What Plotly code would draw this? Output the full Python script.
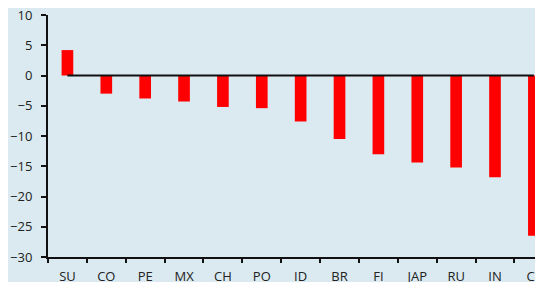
import plotly.graph_objects as go

categories = ["SU", "CO", "PE", "MX", "CH", "PO", "ID", "BR", "FI", "JAP", "RU", "IN", "CL"]
values = [4.2, -3.0, -3.8, -4.3, -5.2, -5.4, -7.6, -10.5, -13.0, -14.4, -15.2, -16.8, -26.5]
zero_line = [0] * len(categories)
y_ticks = [10, 5, 0, -5, -10, -15, -20, -25, -30]

bg = "#DAEAF0"
idx = list(range(len(categories)))
fig = go.Figure()
fig.add_trace(go.Bar(x=idx, y=values, marker=dict(color="#FF0000", line=dict(width=0)),
                     width=0.3))
fig.add_trace(go.Scatter(x=idx, y=zero_line, mode="lines",
                         line=dict(color="#111111", width=2), hoverinfo="skip"))

# page body has an 8px margin; the figure is sized to fill the rest of the window
fig.update_layout(
    width=535, height=274,
    margin=dict(l=40, r=0, t=7, b=25, pad=0),
    paper_bgcolor=bg, plot_bgcolor=bg,
    showlegend=False,
    font=dict(family="Open Sans", size=13, color="#222222"),
    xaxis=dict(
        type="linear",
        range=[-0.5, 12.235], automargin=False,
        tickmode="array", tickvals=idx, ticktext=categories,
        showgrid=False, zeroline=False,
        showline=True, linecolor="#111111", linewidth=2,
        ticks="", ticklabelstandoff=6, ticklabeloverflow="allow",
    ),
    yaxis=dict(
        range=[-30, 10], tickvals=y_ticks, automargin=False,
        showgrid=False, zeroline=False,
        showline=True, linecolor="#111111", linewidth=2,
        ticks="outside", ticklen=5, tickwidth=2, tickcolor="#111111",
        ticklabelstandoff=6, ticklabeloverflow="allow",
    ),
    xaxis2=dict(
        overlaying="x", matches="x", side="bottom", anchor="y",
        tickmode="array", tickvals=[i - 0.5 for i in idx] + [12.5], ticktext=[""] * 14,
        ticks="outside", ticklen=5, tickwidth=2, tickcolor="#111111",
        showgrid=False, zeroline=False, showline=False, automargin=False,
    ),
)
fig.add_trace(go.Scatter(x=[0], y=[None], xaxis="x2", showlegend=False, hoverinfo="skip"))

fig.write_html("out.html")
